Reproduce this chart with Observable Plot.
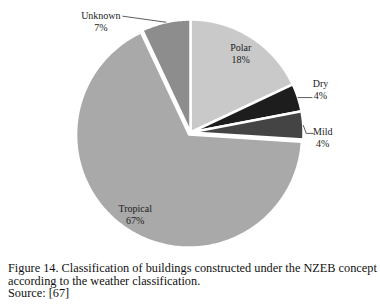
<!DOCTYPE html>
<html>
<head>
<meta charset="utf-8">
<script src="https://cdn.jsdelivr.net/npm/d3@7"></script>
<script src="https://cdn.jsdelivr.net/npm/@observablehq/plot@0.6"></script>
<style>
  html, body { margin: 0; padding: 0; background: #fff; }
  #chart svg { display: block; }
  .caption { font-family: "Liberation Serif", "Times New Roman", serif; font-size: 12.3px; line-height: 12.5px; color: #111; margin: 4px 0 0 8px; white-space: nowrap; }
</style>
</head>
<body>
<div id="chart"></div>
<div class="caption">Figure 14. Classification of buildings constructed under the NZEB concept<br>according to the weather classification.<br>Source: [67]</div>
<script>
// ---- data ----
const categories = ["Polar", "Dry", "Mild", "Tropical", "Unknown"];
const shares = [18, 4, 4, 67, 7];
const shades = ["#c9c9c9", "#1d1d1d", "#444444", "#a9a9a9", "#8d8d8d"];

// ---- layout ----
const W = 380, H = 258;
const cx = 190, cy = 132, R = 113;
const explode = { Tropical: 2.5 };
// label placement: inside labels by radius fraction, outside labels by leader offsets from arc midpoint
const labelLayout = {
  Polar:    { inside: 0.83 },
  Tropical: { inside: 0.87 },
  Dry:      { leader: [[0, 0], [14, 0]], text: [22.5, -8] },
  Mild:     { leader: [[0, 0], [3, 8], [10, 8]], text: [19.5, 12] },
  Unknown:  { leader: [[0, 0], [-43, -6]], text: [-65, -1] }
};

const total = d3.sum(shares);
let acc = 0;
const slices = categories.map((c, i) => {
  const a0 = acc / total * 2 * Math.PI;
  acc += shares[i];
  const a1 = acc / total * 2 * Math.PI;
  return { cat: c, value: shares[i], a0, a1, mid: (a0 + a1) / 2 };
});
const pt = (a, r, ox = 0, oy = 0) => [cx + ox + r * Math.sin(a), cy + oy - r * Math.cos(a)];

const polys = [];
for (const s of slices) {
  const e = explode[s.cat] || 0;
  const ox = e * Math.sin(s.mid), oy = -e * Math.cos(s.mid);
  const c0 = pt(0, 0, ox, oy);
  polys.push({ cat: s.cat, x: c0[0], y: c0[1] });
  const n = Math.max(4, Math.ceil((s.a1 - s.a0) / (Math.PI / 180)));
  for (let k = 0; k <= n; k++) {
    const a = s.a0 + (s.a1 - s.a0) * k / n;
    const p = pt(a, R, ox, oy);
    polys.push({ cat: s.cat, x: p[0], y: p[1] });
  }
  polys.push({ cat: s.cat, x: c0[0], y: c0[1] });
}

const leaders = [];
const labels = [];
for (const s of slices) {
  const L = labelLayout[s.cat];
  const txt = `${s.cat}\n${s.value}%`;
  if (L.inside) {
    const p = pt(s.mid, R * L.inside);
    labels.push({ x: p[0], y: p[1], txt });
  } else {
    const a = pt(s.mid, R);
    for (const [dx, dy] of L.leader) leaders.push({ cat: s.cat, x: a[0] + dx, y: a[1] + dy });
    labels.push({ x: a[0] + L.text[0], y: a[1] + L.text[1], txt });
  }
}

const chart = Plot.plot({
  width: W, height: H,
  margin: 0,
  x: { domain: [0, W], range: [0, W], axis: null },
  y: { domain: [0, H], range: [0, H], axis: null },
  color: { domain: categories, range: shades },
  style: { background: "#fff" },
  marks: [
    Plot.line(polys, { x: "x", y: "y", z: "cat", fill: "cat", stroke: "#fff", strokeWidth: 2.5, strokeLinejoin: "miter", curve: "linear" }),
    Plot.line(leaders, { x: "x", y: "y", z: "cat", stroke: "#333", strokeWidth: 0.8 }),
    Plot.text(labels, { x: "x", y: "y", text: "txt", fontSize: 10, lineHeight: 1.2, fill: "#222", fontFamily: "Liberation Serif, serif", textAnchor: "middle" })
  ]
});
document.getElementById("chart").appendChild(chart);
</script>
</body>
</html>
